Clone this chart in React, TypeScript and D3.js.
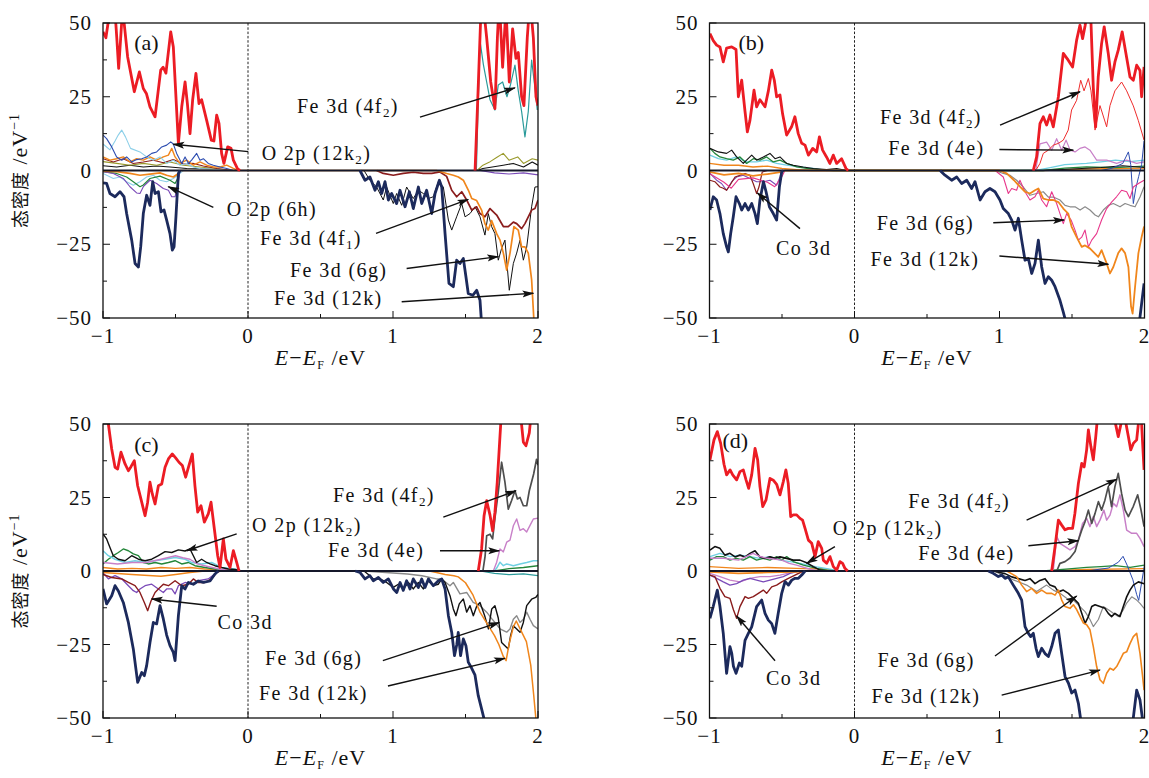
import React from 'react';
import * as d3 from 'd3';

type Pt = [number, number];

const X_DOMAIN: [number, number] = [-1, 2];
const Y_DOMAIN: [number, number] = [-50, 50];
const X_MAJOR = [-1, 0, 1, 2];
const X_MINOR = [-0.5, 0.5, 1.5];
const Y_MAJOR = [-50, -25, 0, 25, 50];
const Y_MINOR = [-37.5, -12.5, 12.5, 37.5];

// ---------- panel (a) ----------
const aRedL: Pt[] = [[-1.0,47],[-0.98,45],[-0.965,50],[-0.95,56],[-0.92,56],[-0.905,45],[-0.892,34.6],[-0.878,45],[-0.865,55],[-0.85,48],[-0.83,38.5],[-0.784,26.7],[-0.749,33.4],[-0.722,27.8],[-0.7,26],[-0.676,21.6],[-0.641,18.2],[-0.602,34],[-0.585,35],[-0.566,33],[-0.533,47],[-0.515,41.9],[-0.48,9.2],[-0.457,21.6],[-0.434,30],[-0.418,22.7],[-0.4,12.5],[-0.382,23.8],[-0.359,32.9],[-0.338,22.7],[-0.32,24],[-0.285,17],[-0.253,10.3],[-0.235,10],[-0.216,18.8],[-0.2,16],[-0.182,5.8],[-0.166,2.4],[-0.14,8],[-0.117,7.5],[-0.101,3.5],[-0.071,0.5],[-0.055,0]];
const aRedR: Pt[] = [[1.566,0],[1.589,30],[1.605,52],[1.623,56],[1.646,45],[1.674,30],[1.703,21],[1.72,45],[1.733,58],[1.756,35],[1.779,55],[1.802,30],[1.825,48],[1.848,38],[1.864,40],[1.887,25],[1.903,22],[1.926,45],[1.945,58],[1.968,45],[1.986,25],[2.0,22]];
const aTeal: Pt[] = [[1.575,0],[1.589,25],[1.6,44],[1.623,36],[1.646,30],[1.669,24],[1.703,20.5],[1.726,29],[1.756,30],[1.786,25],[1.81,29],[1.841,35.7],[1.864,27],[1.887,20],[1.91,11.4],[1.933,20],[1.956,37.4],[1.979,28],[1.995,20.5]];
const aNavyL: Pt[] = [[-1.0,-4.2],[-0.975,-4.4],[-0.952,-7.8],[-0.917,-8.9],[-0.883,-7.2],[-0.855,-8.9],[-0.837,-14.6],[-0.802,-23.6],[-0.779,-31.5],[-0.756,-32.7],[-0.74,-25.9],[-0.722,-14.6],[-0.699,-8.4],[-0.676,-11.8],[-0.657,-3.8],[-0.641,-7.8],[-0.618,-7.2],[-0.6,-14],[-0.579,-13.4],[-0.561,-16.8],[-0.538,-21.4],[-0.522,-27],[-0.51,-25.9],[-0.497,-15.7],[-0.48,-1],[-0.469,0]];
const aNavyR: Pt[] = [[0.772,0],[0.807,-3.3],[0.841,-2.2],[0.876,-6.7],[0.899,-3.8],[0.922,-7.8],[0.945,-3.8],[0.968,-10],[0.991,-7.8],[1.025,-11.2],[1.048,-6.7],[1.083,-12.3],[1.113,-7.2],[1.14,-12.9],[1.175,-5.6],[1.198,-11.2],[1.232,-6.7],[1.267,-14.6],[1.29,-7.8],[1.32,-3.3],[1.336,-5.6],[1.359,-21.4],[1.386,-38.3],[1.416,-39.4],[1.439,-30.4],[1.462,-31.5],[1.485,-29.8],[1.503,-36],[1.519,-41.7],[1.55,-42.3],[1.577,-40.6],[1.6,-44],[1.611,-52],[1.62,-60]];
const aBlackDn: Pt[] = [[0.8,0],[0.841,-3.3],[0.887,-5.6],[0.933,-10],[0.956,-5.6],[1.002,-11.2],[1.025,-7.8],[1.06,-11.8],[1.094,-5.6],[1.14,-9.5],[1.175,-6.7],[1.209,-7.8],[1.244,-9.5],[1.278,-8.9],[1.313,-3.8],[1.347,-5.6],[1.382,-16.8],[1.405,-20.2],[1.439,-15.7],[1.474,-11.2],[1.497,-15.7],[1.531,-14.6],[1.566,-12.3],[1.6,-15.7],[1.634,-21.9],[1.657,-14.6],[1.68,-19],[1.703,-21.4],[1.726,-30.4],[1.749,-26.4],[1.772,-23.6],[1.802,-40.6],[1.83,-31.5],[1.853,-28],[1.876,-23.6],[1.899,-30.4],[1.922,-26],[1.956,-12.3],[1.979,-5.6],[2.0,-5.5]];
const aBlackUp: Pt[] = [[-1.0,1.6],[-0.906,1.2],[-0.814,1.8],[-0.722,1.2],[-0.63,1.5],[-0.538,1.2],[-0.423,0.7],[-0.285,0.5],[-0.147,0],[1.58,0],[1.62,0.7],[1.76,1.8],[1.83,2.4],[1.9,1.2],[1.96,2.9],[2.0,1.8]];
const aMaroonUp: Pt[] = [[-1.0,4],[-0.929,2.9],[-0.86,4],[-0.791,2.4],[-0.722,2.9],[-0.653,3.5],[-0.584,2.6],[-0.515,3.7],[-0.446,2.2],[-0.377,2.4],[-0.308,1.5],[-0.216,0.7],[-0.101,0]];
const aMaroonDn: Pt[] = [[0.887,0],[0.933,-1],[1.002,-1.6],[1.071,-1],[1.14,-0.6],[1.209,-1],[1.267,-1],[1.324,-0.5],[1.37,-2],[1.405,-6.7],[1.439,-8.9],[1.474,-7.2],[1.508,-10],[1.543,-13.4],[1.577,-12.3],[1.6,-14.6],[1.634,-15.7],[1.669,-12.9],[1.715,-15.1],[1.761,-19],[1.795,-19],[1.83,-17.5],[1.853,-18],[1.887,-19.7],[1.91,-18],[1.933,-15.7],[1.956,-13.4],[1.979,-12.9],[2.0,-10]];
const aOrangeUp: Pt[] = [[-1.0,4.6],[-0.952,3.5],[-0.906,4],[-0.86,4.6],[-0.814,2.9],[-0.768,4],[-0.722,3.5],[-0.676,4.6],[-0.63,3.5],[-0.584,4.6],[-0.549,5.2],[-0.526,7.5],[-0.503,4.6],[-0.469,2.4],[-0.423,3.5],[-0.377,1.8],[-0.331,2.9],[-0.285,1.8],[-0.239,1.2],[-0.193,1.2],[-0.147,1.8],[-0.101,0.7],[-0.067,0]];
const aOrangeDn: Pt[] = [[-1.0,-0.2],[-0.906,-0.4],[-0.814,-1],[-0.745,-1.6],[-0.676,-1.2],[-0.607,-0.8],[-0.561,-1.6],[-0.515,-2.2],[-0.48,-1],[-0.469,0],[1.3,0],[1.336,-0.5],[1.37,-1],[1.416,-1.6],[1.451,-2.2],[1.485,-3.3],[1.52,-6.7],[1.543,-9.5],[1.577,-10.2],[1.611,-13.4],[1.634,-18],[1.657,-20.2],[1.68,-17],[1.715,-21.4],[1.738,-23.6],[1.761,-28],[1.784,-33.8],[1.807,-28],[1.834,-19],[1.864,-20.2],[1.887,-25.9],[1.91,-25.9],[1.933,-28],[1.956,-37],[1.972,-51],[1.98,-60]];
const aBlue: Pt[] = [[-1.0,12],[-0.975,10.8],[-0.94,8],[-0.906,4.6],[-0.871,3.5],[-0.837,4.6],[-0.802,2.9],[-0.768,3.7],[-0.733,4],[-0.699,4.6],[-0.664,5.8],[-0.63,6.3],[-0.595,8],[-0.561,8.6],[-0.533,9.7],[-0.515,9],[-0.492,5.8],[-0.457,2.4],[-0.434,4.6],[-0.411,2.4],[-0.389,3.5],[-0.354,5.8],[-0.331,3.5],[-0.308,4],[-0.274,2.4],[-0.239,1.8],[-0.193,1.2],[-0.147,0.7],[-0.101,0]];
const aLightBlueUp: Pt[] = [[-1.0,9],[-0.952,7],[-0.917,10],[-0.895,12],[-0.871,13.7],[-0.845,11.4],[-0.81,7.5],[-0.745,6.3],[-0.699,4.6],[-0.653,3.5],[-0.607,4.6],[-0.561,2.4],[-0.515,3.5],[-0.469,1.8],[-0.423,2.4],[-0.377,1.2],[-0.331,0.7],[-0.216,0.3],[-0.147,0]];
const aLightBlueDn: Pt[] = [[-1.0,-1],[-0.929,-2.7],[-0.883,-2.2],[-0.837,-3.8],[-0.791,-5],[-0.745,-3.8],[-0.699,-2.2],[-0.653,-1.6],[-0.607,-3.3],[-0.561,-3.8],[-0.515,-2.7],[-0.469,-1],[-0.446,0]];
const aOliveUp: Pt[] = [[-1.0,3],[-0.906,2.4],[-0.814,1.8],[-0.722,2.4],[-0.63,1.8],[-0.538,2.9],[-0.446,1.8],[-0.331,1.2],[-0.216,0.6],[-0.101,0],[1.58,0],[1.62,1.8],[1.67,3],[1.72,4.6],[1.76,5.8],[1.8,3.5],[1.86,4.6],[1.9,2.4],[1.96,4],[2.0,3.5]];
const aPurpleDn: Pt[] = [[-1.0,-0.4],[-0.929,-1],[-0.86,-2.7],[-0.814,-5.5],[-0.768,-7.6],[-0.745,-7.8],[-0.722,-5.5],[-0.676,-3.3],[-0.63,-4.4],[-0.584,-6.1],[-0.549,-6.7],[-0.526,-8.9],[-0.503,-8.9],[-0.48,-3.8],[-0.469,0],[1.6,0],[1.7,-0.8],[1.8,-1.2],[1.9,-0.8],[2.0,-1.5]];
const aGreenDn: Pt[] = [[-1.0,-0.4],[-0.906,-1],[-0.837,-2.2],[-0.791,-3.8],[-0.745,-5.5],[-0.722,-4.9],[-0.676,-2.7],[-0.607,-1.9],[-0.538,-3.3],[-0.503,-4.4],[-0.48,-2.2],[-0.469,0]];

// ---------- panel (b) ----------
const bRedL: Pt[] = [[-0.997,46.4],[-0.974,44],[-0.951,42.5],[-0.928,41.9],[-0.905,36.8],[-0.882,41.5],[-0.847,41.9],[-0.817,41],[-0.801,25],[-0.778,30.6],[-0.755,20],[-0.739,13.1],[-0.721,17],[-0.693,27.2],[-0.675,21.6],[-0.652,24],[-0.617,21.6],[-0.594,27],[-0.571,34],[-0.553,30.6],[-0.537,25],[-0.514,25.6],[-0.496,19.2],[-0.468,12],[-0.434,14.8],[-0.411,18.2],[-0.388,12.5],[-0.364,9.2],[-0.341,8.6],[-0.318,5.2],[-0.288,7.5],[-0.261,6.3],[-0.242,11.4],[-0.22,6.9],[-0.193,4.6],[-0.17,2.4],[-0.146,5.2],[-0.123,2.4],[-0.089,4],[-0.059,0.7],[-0.043,0]];
const bRedR: Pt[] = [[1.233,0],[1.256,4.6],[1.279,15.9],[1.302,18.2],[1.325,15.4],[1.348,18.8],[1.371,14.8],[1.406,25],[1.44,39.7],[1.474,37.4],[1.504,35.1],[1.532,44.2],[1.555,49.3],[1.573,44.7],[1.59,49],[1.613,56],[1.631,50],[1.647,28],[1.663,14.8],[1.681,31.7],[1.704,43],[1.722,48.7],[1.75,39.7],[1.773,30.6],[1.796,36.8],[1.819,40.8],[1.846,47],[1.872,39.7],[1.9,31.7],[1.923,30.6],[1.946,35.7],[1.969,33.9],[1.98,25],[1.997,35.1]];
const bRedThin: Pt[] = [[1.24,0],[1.256,0.5],[1.279,2.4],[1.302,5.8],[1.337,6.9],[1.371,8.6],[1.406,9.2],[1.44,10.3],[1.474,13.7],[1.497,20.5],[1.532,23.8],[1.56,30.6],[1.583,27],[1.613,31.2],[1.631,27],[1.659,13.7],[1.693,22],[1.739,14.8],[1.762,22],[1.796,27],[1.842,30],[1.877,27],[1.923,21.9],[1.957,17],[1.997,10.3]];
const bOrchidUp: Pt[] = [[1.25,0],[1.279,9],[1.325,9.6],[1.36,6.9],[1.394,10.8],[1.429,6.9],[1.459,10.3],[1.487,6.9],[1.521,6.3],[1.555,7.5],[1.59,8],[1.624,6.9],[1.67,3.5],[1.739,3.5],[1.808,2.4],[1.877,3.5],[1.946,2.4],[1.997,2.9]];
const bNavyL: Pt[] = [[-0.997,-13.4],[-0.974,-8.9],[-0.951,-10],[-0.928,-14.6],[-0.905,-21.4],[-0.882,-25.9],[-0.87,-27.6],[-0.854,-21.4],[-0.836,-15.7],[-0.817,-8.9],[-0.794,-11.2],[-0.778,-13.4],[-0.755,-11.2],[-0.732,-13.4],[-0.709,-11.2],[-0.686,-14.6],[-0.67,-18],[-0.652,-10],[-0.628,-3.8],[-0.61,-7.2],[-0.587,-12.3],[-0.56,-14.6],[-0.537,-16.8],[-0.518,-5.6],[-0.502,-0.5],[-0.491,0]];
const bNavyR: Pt[] = [[0.59,0],[0.624,-1.6],[0.67,-3.3],[0.705,-2.2],[0.739,-4.4],[0.774,-3.3],[0.808,-6.1],[0.831,-3.8],[0.866,-10],[0.9,-7.2],[0.934,-6.1],[0.969,-7.2],[1.003,-10],[1.026,-12.9],[1.061,-14.6],[1.084,-16.8],[1.107,-20.2],[1.13,-16.2],[1.153,-23.6],[1.176,-30.4],[1.199,-29.8],[1.222,-34.9],[1.245,-31.5],[1.268,-23.6],[1.291,-32.7],[1.314,-38.3],[1.337,-36],[1.36,-37.2],[1.383,-39.4],[1.417,-44],[1.44,-48],[1.456,-51],[1.47,-60],[1.6,-75],[1.9,-75],[1.95,-60],[1.969,-49.6],[1.997,-38.3]];
const bOrangeUp: Pt[] = [[-1.0,2.4],[-0.9,1.8],[-0.8,1.8],[-0.7,1.2],[-0.6,1.5],[-0.5,0.7],[-0.4,0.3],[-0.3,0],[1.3,0],[1.6,0.5],[2.0,0.8]];
const bOrangeDn: Pt[] = [[-1.0,-0.5],[-0.9,-1.5],[-0.8,-1],[-0.7,-1.8],[-0.6,-1.2],[-0.5,-0.5],[-0.48,0],[1.0,0],[1.05,-1],[1.1,-3.3],[1.141,-5.5],[1.176,-7.2],[1.21,-7.8],[1.245,-6.7],[1.268,-6.1],[1.302,-9.5],[1.337,-10],[1.371,-10],[1.406,-10.7],[1.44,-12.9],[1.474,-14.6],[1.497,-19],[1.532,-22.6],[1.567,-25.9],[1.59,-25.4],[1.623,-26.4],[1.647,-27.6],[1.681,-29.3],[1.704,-27],[1.739,-31.5],[1.762,-34.9],[1.785,-32.7],[1.819,-28],[1.842,-26.4],[1.866,-28],[1.889,-32.7],[1.907,-46],[1.918,-48.5],[1.935,-39.4],[1.958,-28],[1.98,-22.6],[1.997,-19]];
const bMagentaDn: Pt[] = [[-1.0,-1],[-0.9,-4],[-0.85,-6],[-0.8,-3],[-0.7,-2.5],[-0.6,-4],[-0.55,-5.5],[-0.5,-2],[-0.48,0],[0.97,0],[1.026,-2.2],[1.061,-7.8],[1.084,-6.1],[1.118,-6.7],[1.141,-3.3],[1.176,-7.2],[1.21,-10],[1.245,-8.9],[1.268,-6.7],[1.291,-10],[1.325,-12.3],[1.36,-7.2],[1.394,-11.2],[1.417,-14.6],[1.44,-18],[1.463,-14.6],[1.494,-16.8],[1.521,-20.2],[1.544,-23.6],[1.567,-22.6],[1.59,-20.2],[1.613,-25.9],[1.636,-23.6],[1.67,-21.4],[1.704,-16.8],[1.739,-12.9],[1.773,-10.7],[1.807,-8.9],[1.842,-6.7],[1.877,-7.2],[1.9,-9.5],[1.923,-5.6],[1.958,-4.4],[1.997,-3.3]];
const bGrayDn: Pt[] = [[0.97,0],[1.026,-1],[1.072,-1.6],[1.118,-3.3],[1.164,-5.6],[1.21,-8.4],[1.256,-7.8],[1.302,-7.2],[1.337,-9],[1.371,-9],[1.417,-10],[1.452,-11.8],[1.486,-12.3],[1.521,-12.3],[1.556,-13.4],[1.59,-12.3],[1.624,-13.4],[1.659,-15.1],[1.682,-15.7],[1.716,-13.4],[1.75,-11.8],[1.785,-11.2],[1.831,-12.3],[1.866,-11.2],[1.9,-11.8],[1.935,-12.3],[1.969,-9],[1.997,-5.5]];
const bBlueThin: Pt[] = [[1.7,0],[1.78,0.8],[1.85,2.4],[1.889,6.3],[1.905,2],[1.923,-11.2],[1.94,-6],[1.96,-2],[1.98,2],[1.997,10]];
const bMaroonDn: Pt[] = [[-0.997,-3.3],[-0.963,-3.8],[-0.928,-5.6],[-0.905,-6],[-0.882,-6.7],[-0.859,-5],[-0.824,-2.2],[-0.79,-1.6],[-0.755,-1],[-0.721,-1.6],[-0.698,-4.5],[-0.675,-7.8],[-0.659,-5.6],[-0.636,-0.5],[-0.6,0]];
const bPurpleDn: Pt[] = [[-0.997,-1],[-0.951,-3.3],[-0.917,-4.4],[-0.882,-6.7],[-0.847,-3.8],[-0.813,-2.2],[-0.767,-1.6],[-0.721,-2.7],[-0.675,-3.8],[-0.629,-3.8],[-0.583,-3.3],[-0.537,-5],[-0.514,-2.2],[-0.502,0]];
const bBlackUp: Pt[] = [[-0.997,7.5],[-0.939,6.3],[-0.882,5.8],[-0.847,6.9],[-0.813,4.6],[-0.767,2.4],[-0.709,5.2],[-0.675,3.5],[-0.629,4.6],[-0.583,5.8],[-0.548,4],[-0.514,4.6],[-0.468,2.4],[-0.422,1.8],[-0.353,1.2],[-0.284,0.7],[-0.192,0.3],[-0.123,0.7],[-0.054,0],[1.3,0],[1.5,0.5],[1.7,1],[1.85,1.6],[2.0,1]];
const bGreenUp: Pt[] = [[-0.997,7.5],[-0.963,5.8],[-0.928,4.6],[-0.882,4],[-0.836,3.5],[-0.79,4.6],[-0.744,2.4],[-0.698,4],[-0.652,3.5],[-0.606,4.6],[-0.56,2.9],[-0.514,3.5],[-0.468,2.4],[-0.399,1.2],[-0.33,0.7],[-0.238,0.3],[-0.146,0],[1.3,0],[1.45,0.8],[1.6,1.2],[1.8,1],[2.0,1.5]];
const bCyanUp: Pt[] = [[-0.997,5.2],[-0.939,4],[-0.882,3.5],[-0.813,4.6],[-0.744,2.9],[-0.675,2.9],[-0.606,3.5],[-0.537,2.4],[-0.468,1.8],[-0.376,1.2],[-0.284,0.7],[-0.192,0],[1.25,0],[1.35,1],[1.45,2],[1.6,2.4],[1.7,2.9],[1.8,3.5],[1.9,3],[2.0,3.5]];

// ---------- panel (c) ----------
const cRedL: Pt[] = [[-1.0,60],[-0.963,50],[-0.94,41.5],[-0.917,35.3],[-0.899,34.7],[-0.876,40.4],[-0.848,36.4],[-0.825,34.1],[-0.807,35.5],[-0.784,37.5],[-0.761,29],[-0.733,23.4],[-0.71,18.8],[-0.692,23.4],[-0.676,30.2],[-0.66,26.2],[-0.641,22.8],[-0.618,29],[-0.595,29.6],[-0.572,35.3],[-0.549,38.1],[-0.522,39.8],[-0.499,38.5],[-0.476,37],[-0.453,35.9],[-0.43,31.9],[-0.407,35.9],[-0.384,39.8],[-0.366,29],[-0.347,20],[-0.324,22.2],[-0.301,16.6],[-0.274,19.4],[-0.255,23.4],[-0.232,14.3],[-0.209,5.2],[-0.193,1.2],[-0.17,10.9],[-0.152,4],[-0.124,1.2],[-0.101,6.9],[-0.078,2.9],[-0.062,0]];
const cRedR: Pt[] = [[1.588,0],[1.611,7.5],[1.628,18.8],[1.646,23.9],[1.669,19],[1.687,13.7],[1.703,20],[1.719,30.2],[1.738,46],[1.749,55],[1.761,60],[1.784,52],[1.807,58],[1.83,55],[1.853,52],[1.876,55],[1.899,43.8],[1.917,42.6],[1.94,47],[1.956,55],[1.979,60],[2.0,60]];
const cDarkGray: Pt[] = [[1.62,0],[1.635,5],[1.646,12],[1.669,12.5],[1.687,10.9],[1.703,18],[1.726,26.8],[1.749,37],[1.772,30.2],[1.795,21],[1.818,24],[1.841,27.3],[1.858,24.5],[1.876,25],[1.899,22.2],[1.922,22.2],[1.94,27.3],[1.97,33],[1.99,38],[2.0,36]];
const cOrchidUp: Pt[] = [[-1.0,2.9],[-0.9,2.4],[-0.8,2.9],[-0.7,2.9],[-0.6,4],[-0.5,5.2],[-0.45,4.5],[-0.4,4],[-0.35,2.4],[-0.3,1.8],[-0.2,0.7],[-0.1,0],[1.692,0],[1.715,3],[1.738,7.5],[1.761,6.5],[1.784,9.8],[1.807,10.5],[1.83,15.4],[1.853,17.7],[1.876,13.8],[1.899,14.4],[1.922,13.3],[1.945,15.5],[1.968,17.7],[2.0,18]];
const cCyanUp: Pt[] = [[-1.0,6.9],[-0.963,5.2],[-0.917,4],[-0.848,2.9],[-0.779,3.5],[-0.71,2.9],[-0.641,3.5],[-0.572,4],[-0.503,4.6],[-0.434,4],[-0.389,2.9],[-0.32,2.4],[-0.251,2.9],[-0.182,1.2],[-0.09,0.7],[-0.044,0],[1.7,0],[1.715,1],[1.738,3],[1.761,1.8],[1.784,2.4],[1.83,1.8],[1.876,2.4],[1.922,2.9],[1.968,3.5],[2.0,3.5]];
const cGreenUp: Pt[] = [[-1.0,2.4],[-0.963,4],[-0.929,5.2],[-0.894,6.3],[-0.86,7.5],[-0.825,6.9],[-0.791,5.8],[-0.756,5.2],[-0.722,2.9],[-0.687,2.4],[-0.641,2.9],[-0.595,2.4],[-0.549,2.9],[-0.503,3.5],[-0.457,2.4],[-0.411,2.9],[-0.366,1.8],[-0.297,1.2],[-0.228,0.7],[-0.136,0],[1.7,0],[1.8,0.8],[1.9,1.2],[2.0,1.8]];
const cBlackUp: Pt[] = [[-1.0,12.6],[-0.975,10.9],[-0.952,8],[-0.929,5.2],[-0.894,4],[-0.848,3.5],[-0.802,5.2],[-0.756,4],[-0.71,3.5],[-0.664,4],[-0.618,5.2],[-0.572,6.6],[-0.526,6.3],[-0.48,7.2],[-0.434,6.8],[-0.4,7.5],[-0.377,5.2],[-0.354,2.9],[-0.32,4],[-0.285,2.9],[-0.262,2.4],[-0.228,1.8],[-0.182,1.2],[-0.136,0.7],[-0.09,0.5],[-0.044,0]];
const cBlackDn: Pt[] = [[0.8,0],[0.841,-1.6],[0.864,-2.7],[0.91,-2.7],[0.956,-3.9],[1.002,-5.6],[1.037,-4.5],[1.071,-6.1],[1.106,-3.9],[1.14,-6.1],[1.175,-3.9],[1.209,-6.1],[1.244,-3.4],[1.278,-5],[1.313,-4.5],[1.336,-2.7],[1.359,-3.9],[1.393,-8.4],[1.416,-12.9],[1.434,-15.2],[1.457,-11.2],[1.485,-9.5],[1.508,-14],[1.531,-11.8],[1.554,-15.2],[1.577,-12],[1.6,-10.7],[1.634,-15.5],[1.658,-19.7],[1.681,-12.9],[1.703,-11.8],[1.726,-16],[1.749,-24.3],[1.772,-25.4],[1.795,-26.5],[1.811,-22],[1.83,-18.6],[1.853,-19.7],[1.876,-20.8],[1.899,-17.5],[1.922,-11.8],[1.956,-9.6],[1.984,-9],[2.0,-8]];
const cGrayDn: Pt[] = [[0.8,0],[0.95,-0.5],[1.1,-1],[1.2,-1.6],[1.3,-2.7],[1.336,-2.7],[1.393,-5],[1.416,-3.9],[1.462,-7.8],[1.508,-7.3],[1.553,-10.7],[1.6,-11.8],[1.646,-14],[1.681,-16.2],[1.703,-17.5],[1.738,-19.7],[1.784,-20.8],[1.807,-19.7],[1.83,-16.4],[1.853,-15.2],[1.876,-17.5],[1.899,-16.4],[1.922,-14],[1.945,-16.4],[1.968,-18.6],[2.0,-19.7]];
const cOrangeUp: Pt[] = [[-1.0,1.2],[-0.9,0.7],[-0.8,0.9],[-0.7,0.7],[-0.6,1.2],[-0.5,0.9],[-0.4,1.2],[-0.3,0.7],[-0.2,0.5],[-0.1,0]];
const cOrangeDn: Pt[] = [[-1.0,-0.5],[-0.8,-1.2],[-0.6,-1.8],[-0.5,-1.2],[-0.4,-0.5],[-0.3,0],[1.25,0],[1.3,-0.5],[1.36,-1.2],[1.42,-1.6],[1.45,-2],[1.5,-4],[1.55,-8],[1.6,-14],[1.65,-18],[1.7,-22],[1.73,-25],[1.76,-29],[1.78,-30.5],[1.8,-25],[1.83,-19],[1.85,-17],[1.88,-20],[1.92,-24],[1.95,-32],[1.97,-42],[1.985,-50],[2.0,-60]];
const cNavyL: Pt[] = [[-1.0,-6.1],[-0.975,-11.2],[-0.94,-8.4],[-0.917,-5],[-0.894,-6.8],[-0.86,-10.7],[-0.825,-17.5],[-0.791,-26.5],[-0.761,-37.9],[-0.733,-34.5],[-0.715,-35.6],[-0.699,-32.2],[-0.676,-24.3],[-0.653,-17.5],[-0.63,-18],[-0.607,-11.8],[-0.584,-16.3],[-0.561,-21.8],[-0.538,-25.4],[-0.515,-27.7],[-0.503,-30.5],[-0.48,-15.2],[-0.457,-5],[-0.434,-6.1],[-0.411,-3.9],[-0.377,-4.5],[-0.343,-3.4],[-0.308,-3.9],[-0.262,-3.4],[-0.228,-1],[-0.205,0]];
const cNavyR: Pt[] = [[0.74,0],[0.772,-0.5],[0.807,-2.7],[0.841,-1.6],[0.864,-3.3],[0.899,-2.2],[0.933,-3.9],[0.968,-2.7],[1.003,-6.1],[1.026,-7.3],[1.049,-3.9],[1.071,-6.6],[1.094,-3.3],[1.117,-6.1],[1.14,-2.7],[1.175,-5.6],[1.198,-2.7],[1.221,-5.6],[1.244,-2.7],[1.278,-5],[1.313,-3.3],[1.336,-2.7],[1.359,-6.1],[1.382,-15.2],[1.405,-20.9],[1.424,-28.8],[1.44,-25],[1.45,-20.9],[1.466,-28.8],[1.485,-23.1],[1.503,-25.4],[1.519,-31],[1.542,-33],[1.565,-35.3],[1.588,-42.4],[1.611,-46.9],[1.628,-50.3],[1.64,-60]];
const cMaroonDn: Pt[] = [[-1.0,-1.2],[-0.94,-2.2],[-0.87,-2.7],[-0.825,-3.9],[-0.779,-5],[-0.745,-7.3],[-0.715,-10.7],[-0.692,-13.5],[-0.669,-10.2],[-0.641,-7.3],[-0.618,-6.1],[-0.584,-4.5],[-0.549,-5],[-0.503,-3.3],[-0.457,-5],[-0.411,-4.5],[-0.377,-2.7],[-0.343,-3.9],[-0.297,-3.9],[-0.251,-2.7],[-0.216,-0.5],[-0.19,0]];
const cPurpleDn: Pt[] = [[-1.0,-0.6],[-0.963,-2.7],[-0.917,-1.6],[-0.87,-2.7],[-0.825,-5],[-0.791,-6.7],[-0.768,-7.3],[-0.745,-6.1],[-0.71,-5],[-0.664,-4.5],[-0.618,-6.1],[-0.584,-7.3],[-0.561,-6.1],[-0.526,-6.1],[-0.503,-7.8],[-0.48,-5],[-0.434,-3.9],[-0.389,-4.5],[-0.343,-3.3],[-0.274,-2.7],[-0.216,-0.5],[-0.19,0]];
const cTealDn: Pt[] = [[1.6,0],[1.7,-0.8],[1.8,-1.2],[1.9,-1],[2.0,-1.6]];

// ---------- panel (d) ----------
const dRedL: Pt[] = [[-0.997,37.8],[-0.969,44.6],[-0.946,47.4],[-0.923,43.4],[-0.9,36.3],[-0.882,32.7],[-0.858,34.4],[-0.84,32.7],[-0.813,31],[-0.79,33.8],[-0.767,34.4],[-0.748,31],[-0.73,28.1],[-0.709,32.7],[-0.686,41.7],[-0.668,37.8],[-0.652,28.7],[-0.633,21.9],[-0.61,24.2],[-0.583,31.5],[-0.56,30.9],[-0.537,29.5],[-0.514,25.9],[-0.491,30.4],[-0.473,34.4],[-0.457,29.8],[-0.44,18.5],[-0.422,19.1],[-0.399,19.1],[-0.376,17.9],[-0.358,17.3],[-0.341,14.5],[-0.318,10.5],[-0.295,9.4],[-0.272,4.9],[-0.25,10],[-0.226,7.7],[-0.215,3.7],[-0.192,2.6],[-0.169,4.9],[-0.146,1.5],[-0.123,0.3],[-0.1,3.2],[-0.082,2.6],[-0.066,0.9],[-0.047,0]];
const dRedR: Pt[] = [[1.36,0],[1.383,8.3],[1.406,17.3],[1.429,15.6],[1.452,14],[1.475,14.5],[1.504,14.5],[1.52,19.6],[1.544,29.8],[1.567,36.6],[1.584,35.4],[1.601,41.2],[1.613,48],[1.63,42.4],[1.647,37.8],[1.664,45.8],[1.681,55],[1.704,51],[1.727,55],[1.75,52],[1.773,57],[1.796,51],[1.819,45.7],[1.842,51],[1.865,52],[1.889,45.7],[1.905,41.2],[1.923,43.4],[1.946,44.6],[1.963,52.5],[1.98,50],[1.997,34.4]];
const dDarkGray: Pt[] = [[1.395,0],[1.417,2.6],[1.452,3.2],[1.486,4.4],[1.521,6.6],[1.544,10.5],[1.567,13.9],[1.59,16.8],[1.613,20.7],[1.636,16.2],[1.659,19.6],[1.682,23.6],[1.704,20.7],[1.727,24.1],[1.75,28.7],[1.773,21.9],[1.796,28.7],[1.819,33.2],[1.842,26.4],[1.866,20.7],[1.889,18.5],[1.923,22],[1.953,25.9],[1.975,21],[1.997,15.1]];
const dOrchidUp: Pt[] = [[-1.0,4.3],[-0.9,4.3],[-0.8,3.7],[-0.7,6],[-0.65,4.9],[-0.6,4.3],[-0.5,3.7],[-0.45,2.6],[-0.4,2],[-0.3,0.5],[-0.25,0],[1.37,0],[1.395,11.7],[1.417,9.4],[1.452,8.3],[1.486,7.2],[1.521,8.3],[1.544,10.5],[1.573,16.2],[1.601,17.9],[1.624,15.1],[1.647,18.5],[1.67,15.1],[1.693,17.3],[1.72,20.7],[1.739,17.3],[1.762,19],[1.785,23],[1.808,21.9],[1.831,25.9],[1.854,20.7],[1.877,13.9],[1.912,12.8],[1.946,12.8],[1.97,11],[1.997,8.3]];
const dNavyL: Pt[] = [[-0.997,-16.1],[-0.974,-12],[-0.946,-6.5],[-0.928,-12],[-0.905,-21.2],[-0.882,-34.8],[-0.859,-25.7],[-0.847,-27.9],[-0.835,-32.4],[-0.817,-34.8],[-0.794,-31.3],[-0.778,-32.4],[-0.755,-23.6],[-0.732,-21.2],[-0.709,-19],[-0.675,-12.1],[-0.64,-9.9],[-0.617,-14.4],[-0.594,-16.7],[-0.571,-17.9],[-0.549,-21.2],[-0.526,-14.4],[-0.502,-7.6],[-0.479,-3.6],[-0.456,-4.8],[-0.433,-3.1],[-0.41,-2.5],[-0.387,-2.5],[-0.364,-1.4],[-0.341,0]];
const dNavyR: Pt[] = [[0.923,0],[0.957,-0.8],[0.992,-1.9],[1.015,-1.4],[1.038,-2.5],[1.061,-2],[1.095,-4.8],[1.13,-7.6],[1.153,-9.9],[1.176,-18.9],[1.199,-21.2],[1.215,-22.3],[1.233,-21.2],[1.252,-26.3],[1.268,-29.1],[1.291,-26.3],[1.314,-28.1],[1.337,-29.1],[1.36,-25.7],[1.383,-21.2],[1.406,-20.1],[1.429,-28.1],[1.452,-35.9],[1.475,-38.1],[1.498,-41.5],[1.521,-40.5],[1.544,-45],[1.56,-50.5],[1.58,-60],[1.7,-75],[1.9,-75],[1.923,-49.9],[1.946,-40.5],[1.969,-43.9],[1.985,-49.9],[2.0,-60]];
const dOrangeUp: Pt[] = [[-1.0,1.5],[-0.8,0.9],[-0.6,1.2],[-0.4,0.9],[-0.2,0.6],[-0.1,0],[1.3,0],[1.6,0.5],[2.0,0.8]];
const dOrangeDn: Pt[] = [[-1.0,-0.3],[-0.8,-0.8],[-0.6,-0.5],[-0.4,-0.3],[-0.35,0],[1.05,0],[1.118,-1.9],[1.153,-4.8],[1.187,-7],[1.222,-5.9],[1.256,-7.6],[1.291,-6.5],[1.325,-7.6],[1.36,-7.6],[1.383,-8.2],[1.406,-6.5],[1.429,-9.9],[1.452,-12.1],[1.486,-12.7],[1.51,-11.5],[1.533,-13.2],[1.556,-15.5],[1.579,-17.7],[1.601,-18.3],[1.624,-20],[1.647,-25.7],[1.67,-32.5],[1.693,-37],[1.716,-38.2],[1.739,-34.8],[1.762,-33.1],[1.785,-33.7],[1.808,-32.5],[1.831,-30.3],[1.854,-28],[1.877,-27.5],[1.9,-24.7],[1.923,-22.3],[1.946,-21.2],[1.969,-28],[1.985,-35],[1.997,-40.5]];
const dBlackUp: Pt[] = [[-0.997,7.1],[-0.963,8.3],[-0.928,7.7],[-0.894,5.4],[-0.859,6],[-0.824,4.8],[-0.79,5.4],[-0.755,4.8],[-0.721,6],[-0.686,6.9],[-0.652,4.8],[-0.617,4.3],[-0.583,4.8],[-0.548,4.3],[-0.514,4.8],[-0.468,4.3],[-0.422,3.7],[-0.376,3.7],[-0.33,2.8],[-0.284,1.5],[-0.238,0.3],[-0.192,0]];
const dBlackDn: Pt[] = [[0.96,0],[1.0,-0.5],[1.038,-0.9],[1.084,-2],[1.13,-2.6],[1.176,-3.2],[1.21,-2.6],[1.245,-4.3],[1.279,-3.2],[1.314,-2.6],[1.348,-4.8],[1.383,-5.4],[1.406,-7.1],[1.44,-6.5],[1.475,-7.6],[1.51,-9.3],[1.544,-11],[1.567,-14.4],[1.59,-17.8],[1.613,-15.5],[1.636,-12.1],[1.659,-11.5],[1.693,-12.1],[1.727,-12.7],[1.75,-14.4],[1.773,-15.5],[1.796,-14.4],[1.831,-15.5],[1.854,-12.1],[1.877,-8.8],[1.9,-6.5],[1.923,-4.8],[1.958,-3.7],[1.997,-4.3]];
const dGrayDn: Pt[] = [[0.96,0],[1.095,-3],[1.187,-4.8],[1.256,-7],[1.325,-4.8],[1.371,-6.5],[1.417,-7.6],[1.463,-9.3],[1.509,-9.9],[1.555,-12.1],[1.59,-13.8],[1.624,-16.5],[1.647,-18.9],[1.682,-16.5],[1.716,-12.1],[1.751,-13.2],[1.785,-14.4],[1.819,-15.5],[1.854,-13.2],[1.877,-10.9],[1.912,-8.8],[1.946,-9.9],[1.969,-11],[1.997,-12.7]];
const dBlueThin: Pt[] = [[1.6,0],[1.75,1],[1.82,3],[1.852,5],[1.88,2],[1.92,-3],[1.946,-8],[1.96,-10],[1.98,-4],[2.0,2]];
const dMaroonDn: Pt[] = [[-0.997,-1.4],[-0.963,-1.9],[-0.928,-5.9],[-0.894,-8.7],[-0.859,-9.3],[-0.835,-13.2],[-0.813,-16.1],[-0.79,-12.1],[-0.755,-8.7],[-0.732,-9.3],[-0.698,-8.7],[-0.663,-7.6],[-0.629,-6.5],[-0.606,-7.6],[-0.571,-5.4],[-0.537,-4.8],[-0.502,-3.7],[-0.456,-2.5],[-0.41,-1.4],[-0.353,0]];
const dPurpleDn: Pt[] = [[-0.997,-1.4],[-0.951,-2.5],[-0.905,-3.7],[-0.859,-4.8],[-0.813,-4.3],[-0.767,-3.1],[-0.721,-2.5],[-0.675,-3.1],[-0.629,-3.7],[-0.583,-3.1],[-0.537,-2.5],[-0.491,-1.9],[-0.445,-0.8],[-0.376,0]];
const dOrchidDn: Pt[] = [[-0.997,-0.8],[-0.928,-1.9],[-0.859,-3.1],[-0.79,-3.7],[-0.721,-2.5],[-0.652,-1.9],[-0.583,-1.9],[-0.514,-1.4],[-0.445,-0.6],[-0.4,0]];
const dGreenUp: Pt[] = [[-0.997,3.7],[-0.951,4.9],[-0.905,4.9],[-0.859,3.7],[-0.813,4.3],[-0.767,3.7],[-0.721,4.9],[-0.675,3.7],[-0.629,4.3],[-0.583,3.7],[-0.537,4.9],[-0.502,3.7],[-0.468,4.9],[-0.422,3.2],[-0.353,2],[-0.261,0.9],[-0.192,0.3],[-0.12,0],[1.3,0],[1.5,0.8],[1.6,1.2],[1.7,1.5],[1.8,1.8],[1.9,1.2],[2.0,2]];
const dCyanUp: Pt[] = [[-0.997,4.9],[-0.928,6],[-0.859,4.9],[-0.79,5.4],[-0.721,4.9],[-0.652,4.3],[-0.583,4.9],[-0.514,3.7],[-0.445,3.2],[-0.376,2.6],[-0.261,1.4],[-0.169,0.6],[-0.1,0]];

const C = {
  red: '#ec1c24', navy: '#1c2a5c', teal: '#2a9a9a', orange: '#f0861c', maroon: '#8a1c1c',
  black: '#111111', gray: '#8a8a8a', dgray: '#4e4e4e', orchid: '#c880c8', magenta: '#e8388c',
  cyan: '#70d0e2', green: '#24863a', olive: '#9a9a2c', lblue: '#8ccfe8', blue: '#2c4cb0',
  purple: '#7a4ab8', thinred: '#ee2c2c',
};

interface Series { pts: Pt[]; color: string; w: number }
interface Note { lead: string; sub?: string; tail?: string; at: Pt; from: Pt; to: Pt }
interface PanelSpec {
  tag: string; tagAt: Pt; left: number; top: number; w: number; h: number; yTitle: boolean;
  thin: Series[]; thick: Series[]; notes: Note[];
}

const s = (pts: Pt[], color: string, w = 1.1): Series => ({ pts, color, w });

const panels: PanelSpec[] = [
  {
    tag: '(a)', tagAt: [-0.785, 40.8], left: 103, top: 23, w: 435, h: 295, yTitle: true,
    thin: [
      s(aBlackUp, C.black), s(aOliveUp, C.olive), s(aMaroonUp, C.maroon), s(aOrangeUp, C.orange, 1.4),
      s(aLightBlueUp, C.lblue), s(aBlue, C.blue), s(aLightBlueDn, C.lblue), s(aGreenDn, C.green, 1.2),
      s(aPurpleDn, C.purple), s(aTeal, C.teal, 1.2), s(aBlackDn, C.black, 1.0), s(aMaroonDn, C.maroon, 1.7),
      s(aOrangeDn, C.orange, 1.7),
    ],
    thick: [s(aRedL, C.red, 2.8), s(aRedR, C.red, 2.8), s(aNavyL, C.navy, 2.8), s(aNavyR, C.navy, 2.8)],
    notes: [
      { lead: 'Fe 3d (4f', sub: '2', tail: ')', at: [0.338, 19.5], from: [1.186, 18.1], to: [1.841, 28] },
      { lead: 'O 2p (12k', sub: '2', tail: ')', at: [0.094, 3.6], from: [0.002, 6.4], to: [-0.515, 8.9] },
      { lead: 'O 2p (6h)', at: [-0.147, -15.4], from: [-0.239, -12.5], to: [-0.55, -5.5] },
      { lead: 'Fe 3d (4f', sub: '1', tail: ')', at: [0.083, -25.3], from: [0.883, -21.3], to: [1.519, -9.8] },
      { lead: 'Fe 3d (6g)', at: [0.29, -36], from: [1.094, -33.2], to: [1.726, -29.2] },
      { lead: 'Fe 3d (12k)', at: [0.179, -45.6], from: [1.06, -44.5], to: [1.968, -41.6] },
    ],
  },
  {
    tag: '(b)', tagAt: [-0.8, 41], left: 709.5, top: 23, w: 435, h: 295, yTitle: false,
    thin: [
      s(bOrangeUp, C.orange, 1.4), s(bCyanUp, C.cyan, 1.3), s(bGreenUp, C.green, 1.3), s(bBlackUp, C.black),
      s(bOrchidUp, C.orchid, 1.2), s(bRedThin, C.thinred, 1.0), s(bBlueThin, C.blue, 1.0),
      s(bPurpleDn, C.purple), s(bMaroonDn, C.maroon, 1.2), s(bGrayDn, C.gray, 1.2),
      s(bMagentaDn, C.magenta, 1.1), s(bOrangeDn, C.orange, 1.8),
    ],
    thick: [s(bRedL, C.red, 2.8), s(bRedR, C.red, 2.8), s(bNavyL, C.navy, 2.8), s(bNavyR, C.navy, 2.8)],
    notes: [
      { lead: 'Fe 3d (4f', sub: '2', tail: ')', at: [0.176, 15.7], from: [1.004, 15.4], to: [1.555, 26.7] },
      { lead: 'Fe 3d (4e)', at: [0.233, 5.2], from: [0.999, 7.1], to: [1.509, 6.9] },
      { lead: 'Fe 3d (6g)', at: [0.153, -20.2], from: [0.957, -17.7], to: [1.445, -16.8] },
      { lead: 'Fe 3d (12k)', at: [0.111, -32.3], from: [0.999, -29], to: [1.751, -31.8] },
      { lead: 'Co 3d', at: [-0.541, -28.7], from: [-0.376, -19.7], to: [-0.67, -7.6] },
    ],
  },
  {
    tag: '(c)', tagAt: [-0.785, 40.5], left: 103, top: 424, w: 435, h: 294, yTitle: true,
    thin: [
      s(cOrangeUp, C.orange, 1.4), s(cGreenUp, C.green, 1.4), s(cCyanUp, C.cyan, 1.5), s(cOrchidUp, C.orchid, 1.4),
      s(cBlackUp, C.black, 1.4), s(cTealDn, C.teal, 1.2), s(cPurpleDn, C.purple, 1.3), s(cMaroonDn, C.maroon, 1.4),
      s(cGrayDn, C.gray, 1.4), s(cBlackDn, C.black, 1.4), s(cOrangeDn, C.orange, 1.5), s(cDarkGray, C.dgray, 1.7),
    ],
    thick: [s(cRedL, C.red, 2.8), s(cRedR, C.red, 2.8), s(cNavyL, C.navy, 2.8), s(cNavyR, C.navy, 2.8)],
    notes: [
      { lead: 'O 2p (12k', sub: '2', tail: ')', at: [0.028, 13.4], from: [-0.078, 12.6], to: [-0.423, 6.9] },
      { lead: 'Co 3d', at: [-0.21, -19.8], from: [-0.216, -12], to: [-0.664, -9.5] },
      { lead: 'Fe 3d (4f', sub: '2', tail: ')', at: [0.586, 23.6], from: [1.347, 18.3], to: [1.848, 27.3] },
      { lead: 'Fe 3d (4e)', at: [0.552, 4.9], from: [1.324, 6.9], to: [1.733, 6.9] },
      { lead: 'Fe 3d (6g)', at: [0.117, -32], from: [0.93, -30.5], to: [1.733, -17.5] },
      { lead: 'Fe 3d (12k)', at: [0.076, -43.9], from: [0.965, -39.1], to: [1.772, -29.7] },
    ],
  },
  {
    tag: '(d)', tagAt: [-0.91, 41.8], left: 709.5, top: 424, w: 435, h: 294, yTitle: false,
    thin: [
      s(dOrangeUp, C.orange, 1.4), s(dCyanUp, C.cyan, 1.4), s(dGreenUp, C.green, 1.3), s(dBlackUp, C.black, 1.6),
      s(dOrchidDn, C.orchid, 1.2), s(dPurpleDn, C.purple, 1.2), s(dMaroonDn, C.maroon, 1.4), s(dBlueThin, C.blue, 1.0),
      s(dGrayDn, C.gray, 1.2), s(dOrchidUp, C.orchid, 1.5), s(dBlackDn, C.black, 1.6), s(dOrangeDn, C.orange, 1.6),
      s(dDarkGray, C.dgray, 1.7),
    ],
    thick: [s(dRedL, C.red, 2.8), s(dRedR, C.red, 2.8), s(dNavyL, C.navy, 2.8), s(dNavyR, C.navy, 2.8)],
    notes: [
      { lead: 'Fe 3d (4f', sub: '2', tail: ')', at: [0.371, 21.3], from: [1.187, 17.3], to: [1.808, 31.2] },
      { lead: 'O 2p (12k', sub: '2', tail: ')', at: [-0.15, 12.2], from: [-0.135, 8.3], to: [-0.33, 2.6] },
      { lead: 'Fe 3d (4e)', at: [0.44, 3.7], from: [1.199, 8.6], to: [1.544, 10.3] },
      { lead: 'Co 3d', at: [-0.61, -38.8], from: [-0.548, -30.5], to: [-0.813, -15.3] },
      { lead: 'Fe 3d (6g)', at: [0.158, -32.5], from: [0.969, -28.9], to: [1.532, -8.5] },
      { lead: 'Fe 3d (12k)', at: [0.118, -45], from: [1.015, -42.2], to: [1.693, -33.7] },
    ],
  },
];

const fmt = (v: number) => (v < 0 ? `\u2212${Math.abs(v)}` : `${v}`);

function Panel({ p, idx }: { p: PanelSpec; idx: number }) {
  const x = d3.scaleLinear().domain(X_DOMAIN).range([0, p.w]);
  const y = d3.scaleLinear().domain(Y_DOMAIN).range([p.h, 0]);
  const line = d3.line<Pt>().x(d => x(d[0])).y(d => y(d[1]));
  const clip = `clip-${idx}`;

  return (
    <g transform={`translate(${p.left},${p.top})`}>
      <defs>
        <clipPath id={clip}><rect x={0} y={0} width={p.w} height={p.h} /></clipPath>
      </defs>
      <g clipPath={`url(#${clip})`}>
        {p.thin.map((sr, i) => (
          <path key={`t${i}`} d={line(sr.pts) || ''} fill="none" stroke={sr.color} strokeWidth={sr.w} strokeLinejoin="round" />
        ))}
        <line x1={0} x2={p.w} y1={y(0)} y2={y(0)} stroke="#15182a" strokeWidth={1.8} />
        {p.thick.map((sr, i) => (
          <path key={`k${i}`} d={line(sr.pts) || ''} fill="none" stroke={sr.color} strokeWidth={sr.w} strokeLinejoin="round" />
        ))}
        <line x1={x(0)} x2={x(0)} y1={0} y2={p.h} stroke="#222" strokeWidth={1} strokeDasharray="2.5 1.8" />
      </g>

      {/* frame and ticks */}
      <rect x={0} y={0} width={p.w} height={p.h} fill="none" stroke="#111" strokeWidth={1.3} />
      {Y_MAJOR.map(t => <line key={`ym${t}`} x1={0} x2={7} y1={y(t)} y2={y(t)} stroke="#111" strokeWidth={1} />)}
      {Y_MINOR.map(t => <line key={`yn${t}`} x1={0} x2={4} y1={y(t)} y2={y(t)} stroke="#111" strokeWidth={1} />)}
      {X_MAJOR.map(t => <line key={`xm${t}`} x1={x(t)} x2={x(t)} y1={p.h} y2={p.h - 7} stroke="#111" strokeWidth={1} />)}
      {X_MINOR.map(t => <line key={`xn${t}`} x1={x(t)} x2={x(t)} y1={p.h} y2={p.h - 4} stroke="#111" strokeWidth={1} />)}

      {Y_MAJOR.map(t => (
        <text key={`yl${t}`} x={-11} y={y(t)} dy="0.34em" textAnchor="end" fontSize={21} letterSpacing={1} fill="#111">{fmt(t)}</text>
      ))}
      {X_MAJOR.map(t => (
        <text key={`xl${t}`} x={x(t)} y={p.h + 25} textAnchor="middle" fontSize={21} letterSpacing={1} fill="#111">{fmt(t)}</text>
      ))}

      <text x={p.w / 2} y={p.h + 47} textAnchor="middle" fontSize={22} letterSpacing={1} fill="#111">
        <tspan fontStyle="italic">E</tspan>
        <tspan>{'\u2212'}</tspan>
        <tspan fontStyle="italic">E</tspan>
        <tspan fontSize={12} dy={4}>F</tspan>
        <tspan dy={-4}>{' /eV'}</tspan>
      </text>

      {p.yTitle && (
        <text transform={`translate(-76,${p.h / 2}) rotate(-90)`} textAnchor="middle" fontSize={22} letterSpacing={1} fill="#111">
          <tspan fontFamily="'Noto Sans CJK SC', sans-serif" fontSize={18}>态密度</tspan>
          <tspan>{' /eV'}</tspan>
          <tspan fontSize={14} dy={-8}>{'\u22121'}</tspan>
        </text>
      )}

      <text x={x(p.tagAt[0])} y={y(p.tagAt[1])} fontSize={22} fill="#111">{p.tag}</text>

      {p.notes.map((n, i) => (
        <g key={`n${i}`}>
          <line x1={x(n.from[0])} y1={y(n.from[1])} x2={x(n.to[0])} y2={y(n.to[1])}
            stroke="#111" strokeWidth={1.4} markerEnd="url(#arrowHead)" />
          <text x={x(n.at[0])} y={y(n.at[1])} fontSize={20} letterSpacing={1.4} fill="#111">
            {n.lead}
            {n.sub && <tspan fontSize={13} dy={4}>{n.sub}</tspan>}
            {n.tail && <tspan dy={n.sub ? -4 : 0}>{n.tail}</tspan>}
          </text>
        </g>
      ))}
    </g>
  );
}

export default function App() {
  return (
    <svg width={1149} height={778} viewBox="0 0 1149 778"
      style={{ position: 'absolute', left: 0, top: 0, background: '#fff' }}
      fontFamily="'Liberation Serif', 'Times New Roman', serif">
      <defs>
        <marker id="arrowHead" viewBox="0 0 12 8" refX={11} refY={4} markerWidth={12} markerHeight={8}
          markerUnits="userSpaceOnUse" orient="auto">
          <path d="M0,0.5 L12,4 L0,7.5 L2.5,4 Z" fill="#111" />
        </marker>
      </defs>
      <rect x={0} y={0} width={1149} height={778} fill="#fff" />
      {panels.map((p, i) => <Panel key={p.tag} p={p} idx={i} />)}
    </svg>
  );
}
